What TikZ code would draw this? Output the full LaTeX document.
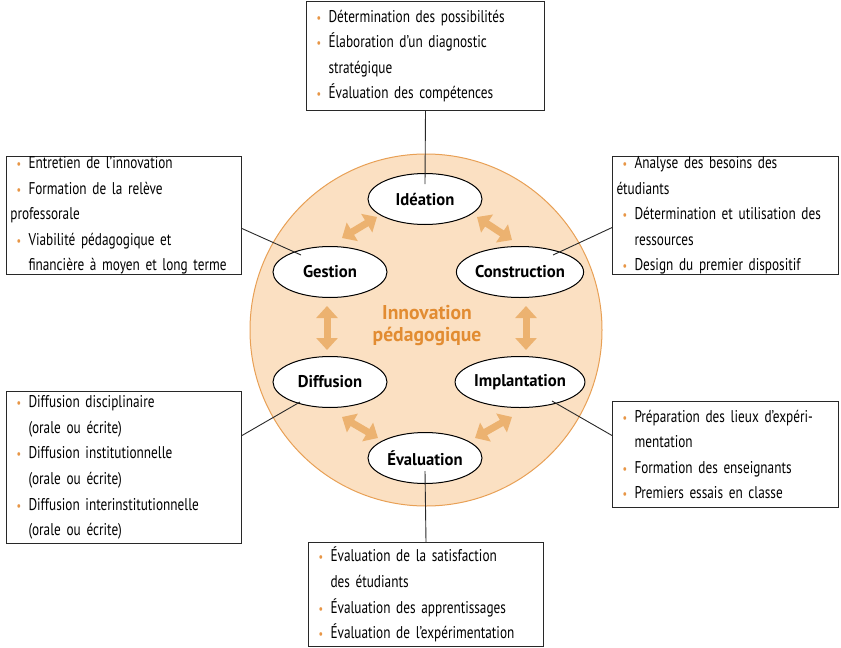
\documentclass[tikz,border=0pt]{standalone}
\usepackage{fontspec}
\setmainfont{PT Sans}[FakeStretch=0.78]
\newfontfamily\phasefont{PT Sans}[FakeStretch=0.98]
\usetikzlibrary{shapes.geometric, arrows.meta, positioning}
\hyphenpenalty=10000
\exhyphenpenalty=10000

\definecolor{peach}{RGB}{251,224,194}
\definecolor{rimc}{RGB}{232,160,85}
\definecolor{arrowc}{RGB}{236,178,112}
\definecolor{titlec}{RGB}{226,140,50}
\definecolor{bulletc}{RGB}{232,150,70}
\definecolor{boxline}{RGB}{40,40,40}

\protected\def\boxfont{\fontsize{17}{25.6}\selectfont\spaceskip=4pt plus 1pt minus 1pt\relax}
\newcommand{\itm}{\hspace*{6pt}\makebox[12pt][l]{\textcolor{bulletc}{\fontsize{13}{13}\selectfont\textbullet}}}
\newcommand{\cont}{\hspace*{18pt}}

\begin{document}
\begin{tikzpicture}[x=1pt, y=-1pt,
	box/.style={draw=boxline, line width=1pt, fill=white, rectangle, anchor=north west, inner xsep=4pt, inner ysep=0pt, align=left, font=\boxfont},
	phase/.style={draw, ellipse, fill=white, line width=1pt, minimum width=114pt, minimum height=51pt, inner sep=0pt, font=\phasefont\fontsize{17}{20}\selectfont\bfseries},
	dbl/.style={draw=arrowc, line width=7pt, {Triangle[width=21pt,length=12pt]}-{Triangle[width=21pt,length=12pt]}},
	link/.style={draw=boxline, line width=0.9pt}]
	
	\useasboundingbox (0,0) rectangle (841,648);
	
	% Wheel
	\node [circle, fill=peach, draw=rimc, line width=1pt, minimum size=352pt, inner sep=0pt] (roue) at (426,330) {};
	\node [align=center, text=titlec, font=\phasefont\fontsize{20}{22}\selectfont\bfseries] (titre) at (427,326) {Innovation\\pédagogique};
	
	% Phases
	\node [phase] (idea) at (425,199) {Idéation};
	\node [phase] (gestion) at (330,272) {Gestion};
	\node [phase] (constr) at (520,272) {Construction};
	\node [phase] (diff) at (330,382) {Diffusion};
	\node [phase] (impl) at (520,382) {Implantation};
	\node [phase] (eval) at (425,458) {Évaluation};
	
	% Arrows
	\draw [dbl] ([shift={(12,-34)}]gestion.center) -- ([shift={(-48,18)}]idea.center);
	\draw [dbl] ([shift={(52,18)}]idea.center) -- ([shift={(-8,-32)}]constr.center);
	\draw [dbl] ([shift={(-3,34)}]gestion.center) -- ([shift={(-3,-32)}]diff.center);
	\draw [dbl] ([shift={(6,34)}]constr.center) -- ([shift={(6,-32)}]impl.center);
	\draw [dbl] ([shift={(12,35)}]diff.center) -- ([shift={(-47,-20)}]eval.center);
	\draw [dbl] ([shift={(50,-20)}]eval.center) -- ([shift={(-8,35)}]impl.center);
	
	% Boxes
	\node [box, minimum width=238pt, text width=230pt, minimum height=109pt] (topbox) at (306,1) {\itm Détermination des possibilités\\ \itm Élaboration d’un diagnostic\\ \cont stratégique\\ \itm Évaluation des compétences};
	\node [box, minimum width=235pt, text width=227pt, minimum height=104pt] (gbox) at (6,156) {\itm Entretien de l’innovation\\ \itm Formation de la relève professorale\\ \itm Viabilité pédagogique et\\ \cont financière à moyen et long terme};
	\node [box, minimum width=226pt, text width=218pt, minimum height=106pt] (cbox) at (612,156) {\itm Analyse des besoins des étudiants\\ \itm Détermination et utilisation des\\ \cont ressources\\ \itm Design du premier dispositif};
	\node [box, minimum width=235pt, text width=227pt, minimum height=152pt] (dbox) at (6,391) {\itm Diffusion disciplinaire\\ \cont (orale ou écrite)\\ \itm Diffusion institutionnelle\\ \cont (orale ou écrite)\\ \itm Diffusion interinstitutionnelle\\ \cont (orale ou écrite)};
	\node [box, minimum width=226pt, text width=218pt, minimum height=106pt] (ibox) at (612,401) {\itm Préparation des lieux d’expéri-\\ \cont mentation\\ \itm Formation des enseignants\\ \itm Premiers essais en classe};
	\node [box, minimum width=235pt, text width=227pt, minimum height=104pt] (ebox) at (308,542) {\itm Évaluation de la satisfaction\\ \cont des étudiants\\ \itm Évaluation des apprentissages\\ \itm Évaluation de l’expérimentation};
	
	% Links
	\draw [link] (topbox.south) -- ([yshift=-11pt]idea.north);
	\draw [link] ([yshift=-13pt]gbox.east) -- ([shift={(-29,-17)}]gestion.center);
	\draw [link] ([yshift=-12pt]cbox.west) -- ([shift={(33,-17)}]constr.center);
	\draw [link] ([yshift=32pt]dbox.east) -- ([shift={(-30,20)}]diff.center);
	\draw [link] ([yshift=19pt]ibox.west) -- ([shift={(32,19)}]impl.center);
	\draw [link] (ebox.north) -- ([yshift=13pt]eval.south);
	
\end{tikzpicture}
\end{document}
